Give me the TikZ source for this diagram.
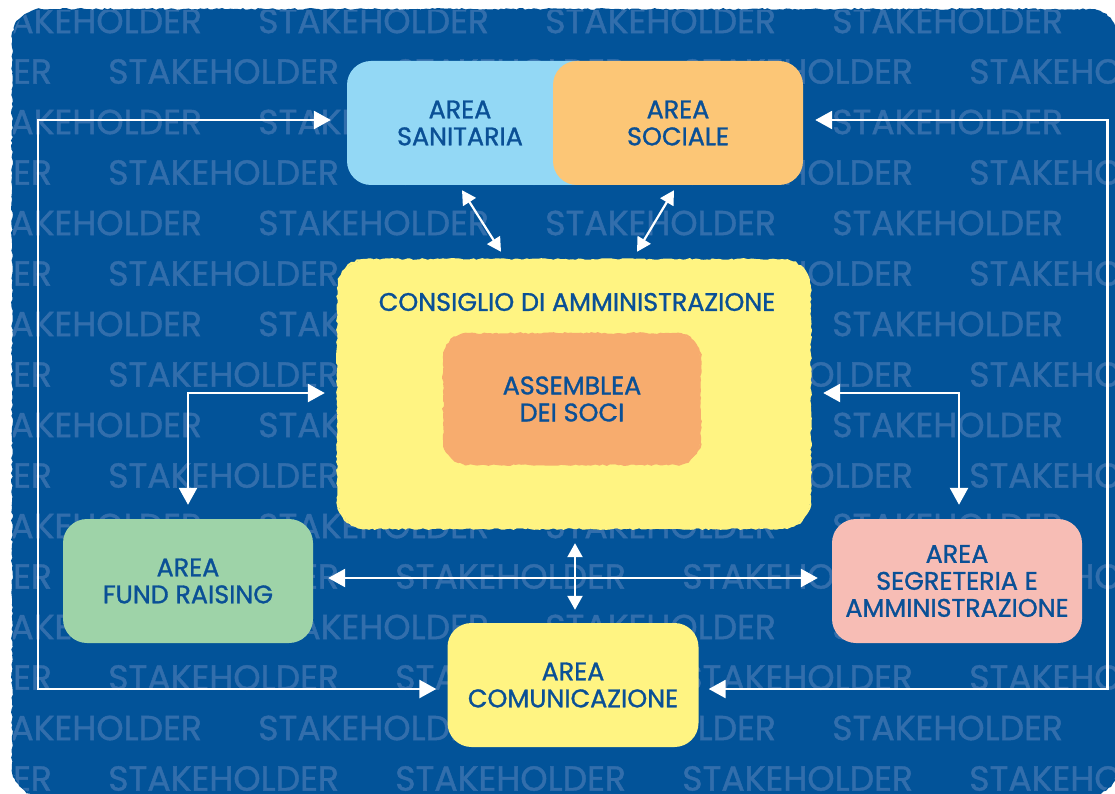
\documentclass[tikz,border=0pt]{standalone}
\usepackage{fontspec}
\setmainfont{Poppins}[FakeBold=1.2]
\usetikzlibrary{arrows.meta,decorations.pathmorphing}
\definecolor{bgblue}{RGB}{2,83,153}
\definecolor{wmblue}{RGB}{50,110,172}
\definecolor{txtblue}{RGB}{10,80,150}
\definecolor{sanblue}{RGB}{147,216,245}
\definecolor{socorange}{RGB}{252,198,118}
\definecolor{cdayellow}{RGB}{255,244,130}
\definecolor{assorange}{RGB}{247,172,110}
\definecolor{fundgreen}{RGB}{158,211,168}
\definecolor{segpink}{RGB}{247,189,181}
\definecolor{comyellow}{RGB}{255,244,130}
\pgfmathsetseed{7}
\begin{document}
\begin{tikzpicture}[x=1pt,y=-1pt,
  txt/.style={text=txtblue, font=\fontsize{25.4}{27}\selectfont, align=center},
  box/.style={txt, rounded corners=24pt, minimum width=250pt, minimum height=124pt, inner sep=0pt},
  rough/.style={fill=#1, postaction={draw=#1, line width=2pt, sharp corners, decorate,
      decoration={random steps, segment length=3pt, amplitude=0.9pt}}},
  wm/.style={text=wmblue, font=\fontsize{34.7}{34.7}\selectfont, inner sep=0pt, anchor=west},
  arr/.style={draw=white, line width=2.6pt, {Triangle[length=17pt,width=18pt]}-{Triangle[length=17pt,width=18pt]}},
  sarr/.style={draw=white, line width=2.2pt, {Triangle[length=14pt,width=15pt]}-{Triangle[length=14pt,width=15pt]}},
]
\useasboundingbox (0,0) rectangle (1115,794);
\fill[white] (0,0) rectangle (1115,794);
% background panel
\path[rough=bgblue, rounded corners=28pt] (13,10) rectangle (1117,795);
% watermark
\begin{scope}
  \clip[rounded corners=28pt] (13,10) rectangle (1117,795);
  \foreach \k in {0,2,...,14}{
    \foreach \m in {-1,...,2}{
      \node[wm] (wa\k\m) at ({258+287*\m},{21+50.5*\k}) {STAKEHOLDER};
    }
  }
  \foreach \k in {1,3,...,15}{
    \foreach \m in {-1,...,3}{
      \node[wm] (wb\k\m) at ({108+287*\m},{21+50.5*\k}) {STAKEHOLDER};
    }
  }
\end{scope}
% boxes
\node[box, fill=sanblue, minimum width=256pt,
      label={[txt, xshift=-15pt]center:AREA\\SANITARIA}] (sanitaria) at (475,123) {};
\node[box, fill=socorange] (sociale) at (678,123) {AREA\\SOCIALE};
\node[box, rough=cdayellow, minimum width=472pt, minimum height=268pt, rounded corners=28pt] (consiglio) at (574,394) {};
\node[txt] (cdatitle) at (577,302) {CONSIGLIO DI AMMINISTRAZIONE};
\node[box, rough=assorange, minimum width=256pt, minimum height=130pt] (assemblea) at (572,399) {ASSEMBLEA\\DEI SOCI};
\node[box, fill=fundgreen] (fund) at (188,581) {AREA\\FUND RAISING};
\node[box, fill=segpink] (segreteria) at (957,581) {AREA\\SEGRETERIA E\\AMMINISTRAZIONE};
\node[box, fill=comyellow, minimum width=251pt] (comunicazione) at (573,685) {AREA\\COMUNICAZIONE};
% connectors
\draw[arr, shorten <=16pt, shorten >=11pt] ([yshift=3pt]sanitaria.west) -- ++(-309,0) |- ([yshift=-4pt]comunicazione.west);
\draw[arr, shorten <=12pt, shorten >=10pt] ([yshift=3pt]sociale.east) -- ++(304,0) |- ([yshift=-4pt]comunicazione.east);
\draw[arr, shorten <=13pt, shorten >=14pt] ([yshift=1pt]consiglio.west) -| (fund.north);
\draw[arr, shorten <=13pt, shorten >=14pt] ([yshift=1pt]consiglio.east) -| ([xshift=2pt]segreteria.north);
\draw[arr, shorten <=15pt, shorten >=14pt] ([yshift=3pt]fund.east) -- ([yshift=3pt]segreteria.west);
\draw[sarr, shorten <=15pt, shorten >=13pt] ([xshift=1pt]consiglio.south) -- ([xshift=2pt]comunicazione.north);
\draw[sarr] ([xshift=-13pt,yshift=-5pt]sanitaria.south) -- ([xshift=-73pt,yshift=8pt]consiglio.north);
\draw[sarr] ([xshift=-4pt,yshift=-5pt]sociale.south) -- ([xshift=63pt,yshift=8pt]consiglio.north);
\end{tikzpicture}
\end{document}
